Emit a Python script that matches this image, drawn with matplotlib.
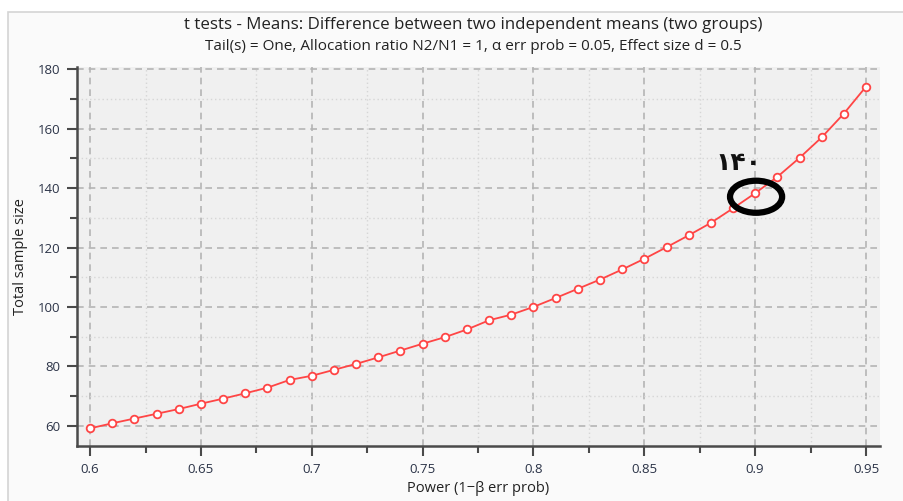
import matplotlib
matplotlib.use('Agg')
import matplotlib.pyplot as plt
from matplotlib.patches import Ellipse, Rectangle
from matplotlib.ticker import MultipleLocator

# power values (x) and total sample size (y)
power = [0.60, 0.61, 0.62, 0.63, 0.64, 0.65, 0.66, 0.67, 0.68, 0.69,
         0.70, 0.71, 0.72, 0.73, 0.74, 0.75, 0.76, 0.77, 0.78, 0.79,
         0.80, 0.81, 0.82, 0.83, 0.84, 0.85, 0.86, 0.87, 0.88, 0.89,
         0.90, 0.91, 0.92, 0.93, 0.94, 0.95]
total_n = [59.1, 60.8, 62.4, 64.0, 65.6, 67.4, 69.1, 70.9, 72.8, 75.4,
           76.8, 78.8, 80.8, 83.0, 85.3, 87.6, 89.8, 92.4, 95.5, 97.4,
           100.0, 103.0, 106.1, 109.2, 112.6, 116.2, 120.1, 124.1, 128.3, 133.2,
           138.3, 143.8, 150.2, 157.1, 165.1, 174.2]

title = 't tests - Means: Difference between two independent means (two groups)'
subtitle = 'Tail(s) = One, Allocation ratio N2/N1 = 1, \u03b1 err prob = 0.05, Effect size d = 0.5'
note = '\u06f1\u06f4\u06f0'   # hand written "140"

plt.rcParams['font.family'] = ['Open Sans', 'DejaVu Sans']
txt_col = '#2b3347'

fig = plt.figure(figsize=(9.04, 5.01), dpi=100, facecolor='white')
# light panel behind the chart, with its thin frame
fig.patches.append(Rectangle((8 / 904, -0.01), 1, 1.01 - 12 / 501, transform=fig.transFigure,
                             facecolor='#fafafa', edgecolor='#d4d4d4', lw=1.2, zorder=-5))

ax = fig.add_axes([77 / 904, 55 / 501, 803 / 904, 379 / 501])
ax.set_facecolor('#f0f0f0')

ax.plot(power, total_n, color='#ff4545', lw=1.3, marker='o', ms=5.5,
        mfc='white', mec='#ff4545', mew=1.3, zorder=3)

ax.set_xlim(0.5941, 0.9563)
ax.set_ylim(53.15, 180.8)
ax.xaxis.set_major_locator(MultipleLocator(0.05))
ax.xaxis.set_minor_locator(MultipleLocator(0.025))
ax.yaxis.set_major_locator(MultipleLocator(20))
ax.yaxis.set_minor_locator(MultipleLocator(10))
ax.set_xticks([0.6, 0.65, 0.7, 0.75, 0.8, 0.85, 0.9, 0.95])
ax.set_xticklabels(['0.6', '0.65', '0.7', '0.75', '0.8', '0.85', '0.9', '0.95'])

ax.grid(which='major', color='#b4b4b4', ls=(0, (4, 3)), lw=1.2)
ax.grid(which='minor', color='#d6d6d6', ls=(0, (1, 2)), lw=1.0)
ax.set_axisbelow(True)

for s in ['top', 'right']:
    ax.spines[s].set_visible(False)
for s in ['left', 'bottom']:
    ax.spines[s].set_color('#4a4a4a')
    ax.spines[s].set_linewidth(1.8)

ax.tick_params(which='major', length=7, width=1.5, color='#4a4a4a',
               labelsize=9.5, labelcolor=txt_col, pad=5)
ax.tick_params(which='minor', length=5, width=1.5, color='#4a4a4a')

ax.set_xlabel('Power (1\u2212\u03b2 err prob)', fontsize=10.5, color='#222222', labelpad=4)
ax.set_ylabel('Total sample size', fontsize=10.5, color='#222222', labelpad=7)

fig.text(473 / 904, 1 - 25 / 501, title, ha='center', va='center', fontsize=12.2, color='#222222')
fig.text(473 / 904, 1 - 47 / 501, subtitle, ha='center', va='center', fontsize=11, color='#222222')

# hand drawn mark around the 0.9 point
ax.add_patch(Ellipse((0.9004, 137.1), 0.0235, 10.8, fill=False, edgecolor='black', lw=4.5, zorder=4))
ax.text(0.8923, 148.6, note, family=['DejaVu Sans'], fontsize=18, fontweight='bold',
        ha='center', va='center', color='#111111', zorder=4)

fig.savefig('out.png', dpi=100, facecolor=fig.get_facecolor())
